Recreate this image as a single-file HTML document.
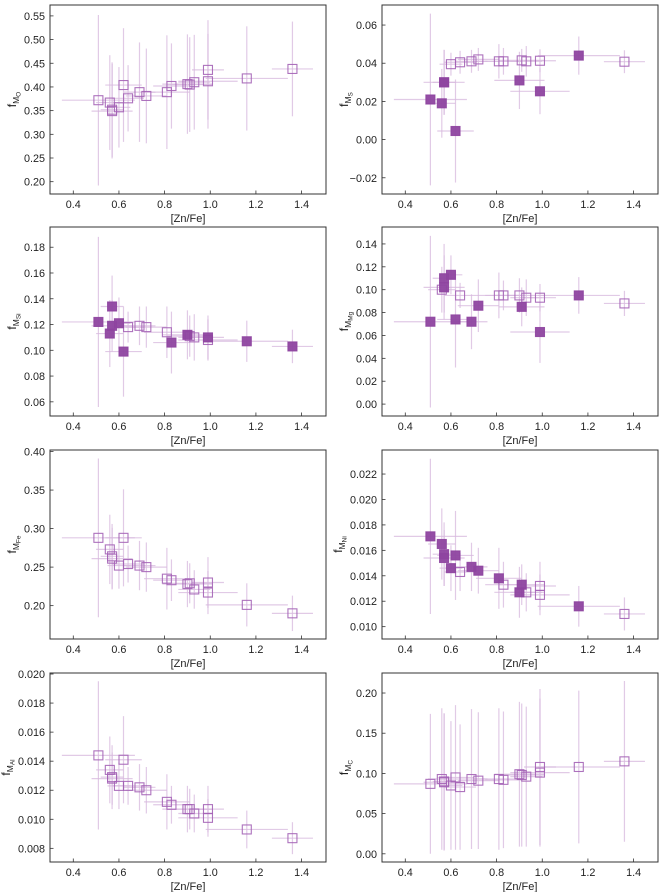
<!DOCTYPE html>
<html><head><meta charset="utf-8">
<style>
html,body{margin:0;padding:0;background:#fff;}
svg{display:block;font-family:"Liberation Sans","DejaVu Sans",sans-serif;}
</style></head>
<body>
<svg id="fig" width="664" height="892" viewBox="0 0 664 892" xmlns="http://www.w3.org/2000/svg"></svg>
<script>
// shared data
const znfe = [0.51,0.56,0.57,0.57,0.60,0.62,0.64,0.69,0.72,0.81,0.83,0.90,0.91,0.93,0.99,0.99,1.16,1.36];
const znfeErr = [0.16,0.06,0.05,0.09,0.05,0.08,0.07,0.07,0.09,0.10,0.08,0.11,0.10,0.07,0.07,0.13,0.18,0.09];
const xTicks = [0.4,0.6,0.8,1.0,1.2,1.4];

const fO = [0.372,0.367,0.352,0.349,0.357,0.404,0.376,0.389,0.381,0.389,0.402,0.406,0.405,0.410,0.436,0.412,0.418,0.438];
const fOErr = [0.18,0.10,0.10,0.10,0.085,0.12,0.07,0.105,0.10,0.12,0.09,0.105,0.10,0.10,0.105,0.10,0.11,0.10];
const fOFill = [0,0,0,0,0,0,0,0,0,0,0,0,0,0,0,0,0,0];

const fS = [0.021,0.019,0.030,0.030,0.0395,0.0045,0.0405,0.041,0.042,0.041,0.041,0.031,0.0415,0.041,0.0413,0.0253,0.044,0.0408];
const fSErr = [0.045,0.018,0.017,0.017,0.006,0.027,0.006,0.006,0.006,0.009,0.007,0.015,0.006,0.008,0.006,0.012,0.010,0.006];
const fSFill = [1,1,1,1,0,1,0,0,0,0,0,1,0,0,0,1,1,0];

const fSi = [0.122,0.113,0.134,0.119,0.121,0.099,0.118,0.119,0.118,0.114,0.106,0.112,0.111,0.110,0.110,0.108,0.107,0.103];
const fSiErr = [0.066,0.026,0.024,0.02,0.02,0.035,0.012,0.015,0.016,0.02,0.024,0.019,0.016,0.018,0.017,0.016,0.016,0.013];
const fSiFill = [1,1,1,1,1,1,0,0,0,0,1,1,0,0,1,0,1,1];

const fMg = [0.072,0.100,0.110,0.102,0.113,0.074,0.095,0.072,0.086,0.095,0.095,0.095,0.085,0.093,0.093,0.063,0.095,0.088];
const fMgErr = [0.075,0.02,0.03,0.028,0.017,0.042,0.011,0.024,0.023,0.02,0.013,0.015,0.017,0.016,0.012,0.027,0.016,0.011];
const fMgFill = [1,0,1,1,1,1,0,1,1,0,0,0,1,0,0,1,1,0];

const fFe = [0.288,0.273,0.264,0.261,0.252,0.288,0.254,0.252,0.250,0.235,0.233,0.228,0.229,0.221,0.230,0.217,0.201,0.190];
const fFeErr = [0.103,0.045,0.042,0.04,0.03,0.063,0.024,0.032,0.032,0.04,0.027,0.03,0.026,0.025,0.033,0.028,0.028,0.023];
const fFeFill = [0,0,0,0,0,0,0,0,0,0,0,0,0,0,0,0,0,0];

const fNi = [0.0171,0.0165,0.0157,0.0154,0.0146,0.0156,0.0143,0.0147,0.0144,0.0138,0.0133,0.0127,0.0133,0.0127,0.0132,0.0125,0.0116,0.0110];
const fNiErr = [0.0061,0.0028,0.0025,0.0022,0.0018,0.0035,0.0015,0.0019,0.0018,0.0024,0.0018,0.002,0.0016,0.0015,0.0019,0.0016,0.0016,0.0013];
const fNiFill = [1,1,1,1,1,1,0,1,1,1,0,1,1,0,0,0,1,0];

const fAl = [0.0144,0.0134,0.0129,0.0128,0.0123,0.0141,0.0123,0.0122,0.0120,0.0112,0.0110,0.0107,0.0107,0.0104,0.0107,0.0101,0.0093,0.0087];
const fAlErr = [0.0051,0.0023,0.0022,0.0018,0.0016,0.003,0.0013,0.0016,0.0016,0.0019,0.0013,0.0016,0.0014,0.0013,0.0016,0.0013,0.0013,0.0011];
const fAlFill = [0,0,0,0,0,0,0,0,0,0,0,0,0,0,0,0,0,0];

const fC = [0.087,0.093,0.090,0.089,0.085,0.095,0.083,0.093,0.091,0.093,0.092,0.099,0.098,0.096,0.108,0.101,0.108,0.115];
const fCErr = [0.087,0.088,0.085,0.085,0.08,0.09,0.078,0.087,0.085,0.088,0.085,0.09,0.089,0.087,0.097,0.092,0.095,0.1];
const fCFill = [0,0,0,0,0,0,0,0,0,0,0,0,0,0,0,0,0,0];

const yTicksO = [0.20,0.25,0.30,0.35,0.40,0.45,0.50,0.55];
const yTicksS = [-0.02,0.00,0.02,0.04,0.06];
const yTicksSi = [0.06,0.08,0.10,0.12,0.14,0.16,0.18];
const yTicksMg = [0.00,0.02,0.04,0.06,0.08,0.10,0.12,0.14];
const yTicksFe = [0.20,0.25,0.30,0.35,0.40];
const yTicksNi = [0.010,0.012,0.014,0.016,0.018,0.020,0.022];
const yTicksAl = [0.008,0.010,0.012,0.014,0.016,0.018,0.020];
const yTicksC = [0.00,0.05,0.10,0.15,0.20];

const NS = "http://www.w3.org/2000/svg";
const svg = document.getElementById('fig');
function mk(tag, attrs, parent){const e=document.createElementNS(NS,tag);for(const k in attrs)e.setAttribute(k,attrs[k]);(parent||svg).appendChild(e);return e;}

const panels = [
  {key:'o', sub:'O', col:0,row:0, ys:fO, ye:fOErr, fill:fOFill, ticks:yTicksO, dom:[0.174,0.573], dec:2},
  {key:'s', sub:'S', col:1,row:0, ys:fS, ye:fSErr, fill:fSFill, ticks:yTicksS, dom:[-0.0285,0.0705], dec:2},
  {key:'si', sub:'Si', col:0,row:1, ys:fSi, ye:fSiErr, fill:fSiFill, ticks:yTicksSi, dom:[0.049,0.1957], dec:2},
  {key:'mg', sub:'Mg', col:1,row:1, ys:fMg, ye:fMgErr, fill:fMgFill, ticks:yTicksMg, dom:[-0.0104,0.1548], dec:2},
  {key:'fe', sub:'Fe', col:0,row:2, ys:fFe, ye:fFeErr, fill:fFeFill, ticks:yTicksFe, dom:[0.1567,0.402], dec:2},
  {key:'ni', sub:'Ni', col:1,row:2, ys:fNi, ye:fNiErr, fill:fNiFill, ticks:yTicksNi, dom:[0.00903,0.02389], dec:3},
  {key:'al', sub:'Al', col:0,row:3, ys:fAl, ye:fAlErr, fill:fAlFill, ticks:yTicksAl, dom:[0.00706,0.02007], dec:3},
  {key:'c', sub:'C', col:1,row:3, ys:fC, ye:fCErr, fill:fCFill, ticks:yTicksC, dom:[-0.0102,0.2249], dec:2},
];
const colX=[50,382], rowY=[5,227,450,673], W=276, H=189;
const XD=[0.298,1.507];

panels.forEach(p=>{
  const x0=colX[p.col], y0=rowY[p.row];
  const sx=v=>x0+(v-XD[0])/(XD[1]-XD[0])*W;
  const sy=v=>y0+H-(v-p.dom[0])/(p.dom[1]-p.dom[0])*H;
  const g=mk('g',{});
  
  
  const clip=mk('clipPath',{id:'clip-'+p.key},g);
  mk('rect',{x:x0,y:y0,width:W,height:H},clip);
  const pg=mk('g',{'clip-path':'url(#clip-'+p.key+')'},g);
  znfe.forEach((xv,i)=>{
    const eb=mk('g',{stroke:'#d7b8dd','stroke-width':1.2,'stroke-opacity':0.75},pg);
    
    
    mk('line',{x1:sx(xv-znfeErr[i]),x2:sx(xv+znfeErr[i]),y1:sy(p.ys[i]),y2:sy(p.ys[i])},eb);
    mk('line',{x1:sx(xv),x2:sx(xv),y1:sy(p.ys[i]-p.ye[i]),y2:sy(p.ys[i]+p.ye[i])},eb);
  });
  [0,1].forEach(f=>{
    znfe.forEach((xv,i)=>{
      if(p.fill[i]!==f) return;
      const s=9, cx=sx(xv), cy=sy(p.ys[i]);
      const r=mk('rect',{x:cx-s/2,y:cy-s/2,width:s,height:s,
        fill:f?'#8e44a0':'none', stroke:f?'#8e44a0':'#a463b6','stroke-width':1.1,
        'fill-opacity':f?0.95:0,'stroke-opacity':0.9},pg);
      
      
    });
  });
  const fr=mk('rect',{x:x0,y:y0,width:W,height:H,fill:'none',stroke:'#333','stroke-width':1},g);
  
  
  xTicks.forEach(t=>{
    const x=sx(t);
    mk('line',{x1:x,x2:x,y1:y0+H,y2:y0+H-3.5,stroke:'#333','stroke-width':0.8},g);
    const tx=mk('text',{x:x,y:y0+H+14,'font-size':10.8,'text-anchor':'middle',fill:'#222'},g);
    tx.textContent=t.toFixed(1);
    
    
  });
  const xl=mk('text',{x:x0+W/2,y:y0+H+28,'font-size':11,'text-anchor':'middle',fill:'#222'},g);
  xl.textContent='[Zn/Fe]';
  
  
  p.ticks.forEach(t=>{
    const y=sy(t);
    mk('line',{x1:x0,x2:x0+3.5,y1:y,y2:y,stroke:'#333','stroke-width':0.8},g);
    const tx=mk('text',{x:x0-5,y:y+4,'font-size':10.8,'text-anchor':'end',fill:'#222'},g);
    tx.textContent=(t<0?'\u2212':'')+Math.abs(t).toFixed(p.dec);
    
    
  });
  const lx = x0 - (p.dec===3 ? 40 : 34);
  const yl=mk('text',{transform:`translate(${lx},${y0+H/2}) rotate(-90)`,'font-size':12,'text-anchor':'middle',fill:'#222'},g);
  
  
  const t1=mk('tspan',{},yl); t1.textContent='f';
  const t2=mk('tspan',{'font-size':8.5,dy:3},yl); t2.textContent='M';
  const t3=mk('tspan',{'font-size':6.5,dy:1.5},yl); t3.textContent=p.sub;
});
</script>
</body></html>
